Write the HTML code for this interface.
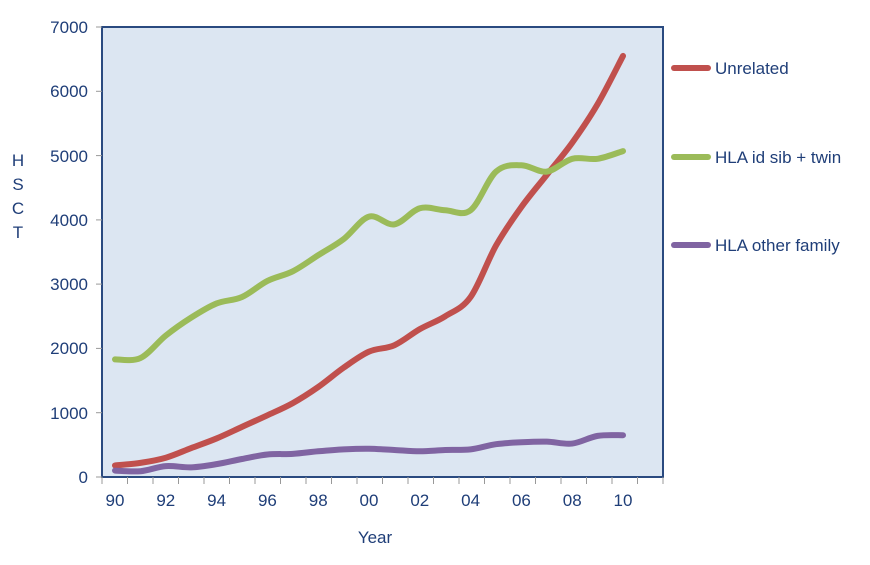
<!DOCTYPE html>
<html><head><meta charset="utf-8"><style>
body{margin:0;background:#fff;}
svg text{font-family:"Liberation Sans",sans-serif;fill:#1f3e78;}
</style></head><body>
<svg width="870" height="560" xmlns="http://www.w3.org/2000/svg">
<rect x="102" y="27" width="561" height="450" fill="#dce6f2" stroke="#2a4a80" stroke-width="2"/>
<g stroke="#999" stroke-width="1">
<line x1="96" y1="27" x2="102" y2="27"/><line x1="96" y1="91.3" x2="102" y2="91.3"/><line x1="96" y1="155.6" x2="102" y2="155.6"/><line x1="96" y1="219.9" x2="102" y2="219.9"/><line x1="96" y1="284.1" x2="102" y2="284.1"/><line x1="96" y1="348.4" x2="102" y2="348.4"/><line x1="96" y1="412.7" x2="102" y2="412.7"/><line x1="96" y1="477" x2="102" y2="477"/>
</g>
<g id="xt" stroke="#999" stroke-width="1"></g>
<g font-size="17" text-anchor="end">
<text x="88" y="33">7000</text><text x="88" y="97">6000</text><text x="88" y="162">5000</text><text x="88" y="226">4000</text><text x="88" y="290">3000</text><text x="88" y="354">2000</text><text x="88" y="419">1000</text><text x="88" y="483">0</text>
</g>
<g font-size="17" text-anchor="middle" id="xl"></g>
<g font-size="17" text-anchor="middle">
<text x="18" y="166">H</text><text x="18" y="190">S</text><text x="18" y="214">C</text><text x="18" y="238">T</text>
<text x="375" y="543">Year</text>
</g>
<g id="series" fill="none" stroke-width="6" stroke-linecap="round" stroke-linejoin="round"></g>
<line x1="674" y1="68" x2="708" y2="68" stroke="#c0504d" stroke-width="6" stroke-linecap="round"/>
<line x1="674" y1="157" x2="708" y2="157" stroke="#9bbb59" stroke-width="6" stroke-linecap="round"/>
<line x1="674" y1="245" x2="708" y2="245" stroke="#8064a2" stroke-width="6" stroke-linecap="round"/>
<g font-size="17"><text x="715" y="74">Unrelated</text><text x="715" y="163">HLA id sib + twin</text><text x="715" y="251">HLA other family</text></g>
</svg>
<script>
var ns="http://www.w3.org/2000/svg";
var xt=document.getElementById('xt'),xl=document.getElementById('xl');
for(var i=0;i<=22;i++){var l=document.createElementNS(ns,'line');var x=102+25.5*i;l.setAttribute('x1',x);l.setAttribute('x2',x);l.setAttribute('y1',477);l.setAttribute('y2',484);xt.appendChild(l);}
var labs=['90','92','94','96','98','00','02','04','06','08','10'];
labs.forEach(function(t,k){var e=document.createElementNS(ns,'text');e.setAttribute('x',115+50.8*k);e.setAttribute('y',506);e.textContent=t;xl.appendChild(e);});
var data=[
['#c0504d',[180,220,300,450,600,780,960,1150,1400,1700,1950,2050,2300,2500,2800,3600,4200,4700,5200,5800,6550]],
['#9bbb59',[1830,1850,2200,2480,2700,2800,3050,3200,3450,3700,4050,3930,4180,4150,4150,4750,4850,4750,4950,4950,5070]],
['#8064a2',[100,90,170,150,200,280,350,360,400,430,440,420,400,420,430,510,540,550,520,640,650]]];
var g=document.getElementById('series');
data.forEach(function(s){var p=s[1].map(function(v,i){return [115+25.4*i,477-v*450/7000];});
var d='M'+p[0][0]+','+p[0][1];
for(var i=0;i<p.length-1;i++){var p0=p[Math.max(i-1,0)],p1=p[i],p2=p[i+1],p3=p[Math.min(i+2,p.length-1)];
d+=' C'+(p1[0]+(p2[0]-p0[0])/6)+','+(p1[1]+(p2[1]-p0[1])/6)+' '+(p2[0]-(p3[0]-p1[0])/6)+','+(p2[1]-(p3[1]-p1[1])/6)+' '+p2[0]+','+p2[1];}
var e=document.createElementNS(ns,'path');e.setAttribute('d',d);e.setAttribute('stroke',s[0]);g.appendChild(e);});
</script>
</body></html>
